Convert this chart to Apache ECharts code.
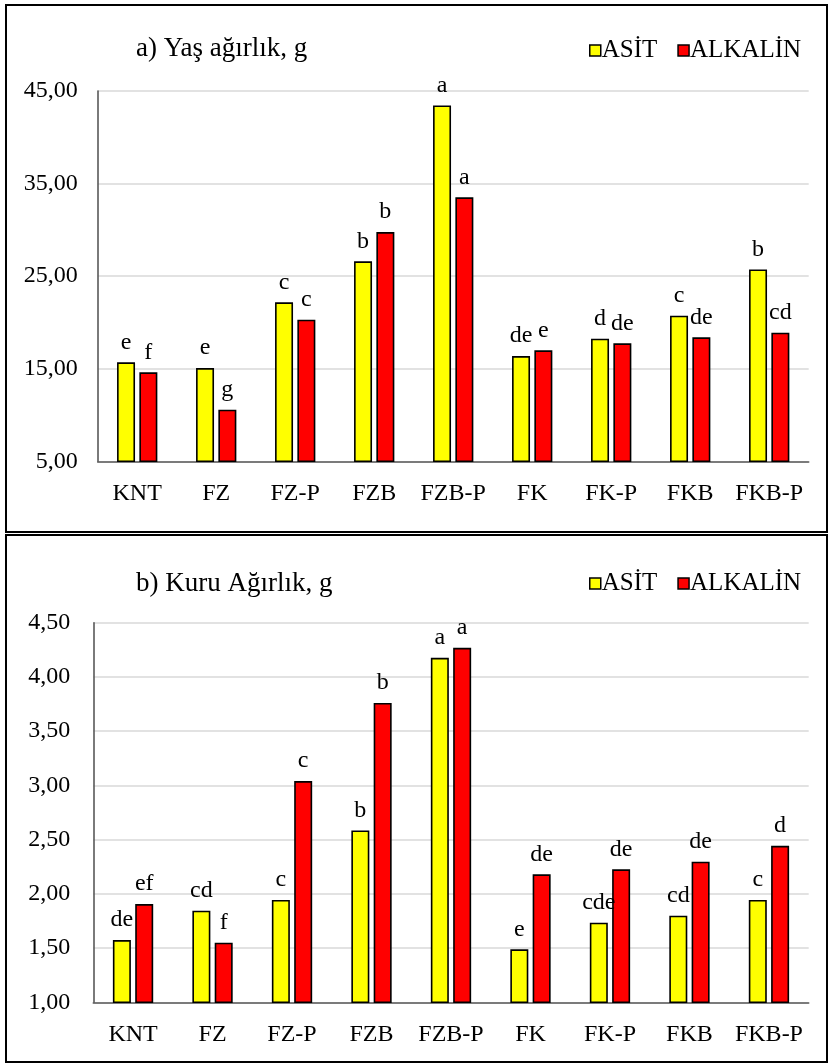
<!DOCTYPE html>
<html>
<head>
<meta charset="utf-8">
<script src="https://cdn.jsdelivr.net/npm/echarts@6/dist/echarts.min.js"></script>
<style>
html,body{margin:0;padding:0;background:#fff;}
#c{width:829px;height:1063px;}
</style>
</head>
<body>
<div id="c"></div>
<script>
// ---- data ----
const categories = ['KNT', 'FZ', 'FZ-P', 'FZB', 'FZB-P', 'FK', 'FK-P', 'FKB', 'FKB-P'];
const seriesNames = ['ASİT', 'ALKALİN'];

// a) Yaş ağırlık, g
const wetAsit    = [15.69, 15.07, 22.17, 26.60, 43.44, 16.37, 18.24, 20.72, 25.73];
const wetAlkalin = [14.61, 10.57, 20.29, 29.76, 33.51, 16.99, 17.74, 18.39, 18.89];
const wetAsitLetters    = ['e', 'e', 'c', 'b', 'a', 'de', 'd', 'c', 'b'];
const wetAlkalinLetters = ['f', 'g', 'c', 'b', 'a', 'e', 'de', 'de', 'cd'];
const wetTicks = [5, 15, 25, 35, 45];

// b) Kuru Ağırlık, g
const dryAsit    = [1.574, 1.844, 1.943, 2.585, 4.176, 1.488, 1.734, 1.798, 1.943];
const dryAlkalin = [1.906, 1.550, 3.040, 3.760, 4.268, 2.180, 2.226, 2.296, 2.443];
const dryAsitLetters    = ['de', 'cd', 'c', 'b', 'a', 'e', 'cde', 'cd', 'c'];
const dryAlkalinLetters = ['ef', 'f', 'c', 'b', 'a', 'de', 'de', 'de', 'd'];
const dryTicks = [1.0, 1.5, 2.0, 2.5, 3.0, 3.5, 4.0, 4.5];

const titles = ['a) Yaş ağırlık, g', 'b) Kuru Ağırlık, g'];

// ---- chart ----
const FONT = '"Liberation Serif", "Times New Roman", serif';
const YELLOW = '#FFFF00', RED = '#FF0000';
const fmt = v => v.toFixed(2).replace('.', ',');

function barSeries(name, values, letters, idx, color) {
  return {
    name: name,
    type: 'bar',
    xAxisIndex: idx,
    yAxisIndex: idx,
    data: values,
    barWidth: 18,
    barGap: '24%',
    itemStyle: { color: color, borderColor: '#000', borderWidth: 1.6 },
    label: {
      show: true,
      position: 'top',
      distance: 8,
      formatter: p => letters[p.dataIndex],
      fontFamily: FONT,
      fontSize: 24,
      color: '#000'
    },
    emphasis: { disabled: true }
  };
}

function xAxis(idx) {
  return {
    type: 'category',
    gridIndex: idx,
    data: categories,
    axisLine: { lineStyle: { color: '#595959', width: 1.6 } },
    axisTick: { show: false },
    axisLabel: { fontFamily: FONT, fontSize: 24, color: '#000', margin: 20, interval: 0 }
  };
}

function yAxis(idx, ticks, margin) {
  return {
    type: 'value',
    gridIndex: idx,
    min: ticks[0],
    max: ticks[ticks.length - 1],
    interval: ticks[1] - ticks[0],
    axisLine: { show: true, lineStyle: { color: '#595959', width: 1.6 } },
    axisTick: { show: false },
    splitLine: { lineStyle: { color: '#d9d9d9', width: 1.6 } },
    axisLabel: { fontFamily: FONT, fontSize: 24, color: '#000', margin: margin, formatter: fmt }
  };
}

function legend(top) {
  return {
    data: seriesNames,
    left: 584,
    top: top,
    icon: 'rect',
    itemWidth: 11,
    itemHeight: 11,
    itemGap: 20,
    itemStyle: { borderColor: '#000', borderWidth: 1.5 },
    textStyle: { fontFamily: FONT, fontSize: 25, color: '#000', padding: [0, 0, 0, -4] },
    selectedMode: false
  };
}

const chart = echarts.init(document.getElementById('c'), null, { renderer: 'canvas' });
chart.setOption({
  animation: false,
  backgroundColor: '#fff',
  title: [
    { text: titles[0], left: 131, top: 30, textStyle: { fontFamily: FONT, fontSize: 27, fontWeight: 'normal', color: '#000' } },
    { text: titles[1], left: 131, top: 565, textStyle: { fontFamily: FONT, fontSize: 27, fontWeight: 'normal', color: '#000' } }
  ],
  legend: [legend(33), legend(566)],
  grid: [
    { left: 97.7, right: 20.3, top: 91, height: 370.3 },
    { left: 93.3, right: 20.3, top: 622.7, height: 379.6 }
  ],
  xAxis: [xAxis(0), xAxis(1)],
  yAxis: [yAxis(0, wetTicks, 20), yAxis(1, dryTicks, 23)],
  series: [
    barSeries(seriesNames[0], wetAsit, wetAsitLetters, 0, YELLOW),
    barSeries(seriesNames[1], wetAlkalin, wetAlkalinLetters, 0, RED),
    barSeries(seriesNames[0], dryAsit, dryAsitLetters, 1, YELLOW),
    barSeries(seriesNames[1], dryAlkalin, dryAlkalinLetters, 1, RED)
  ],
  graphic: [
    { type: 'rect', silent: true, z: 100, shape: { x: 6, y: 5, width: 821, height: 527 }, style: { fill: 'none', stroke: '#000', lineWidth: 2 } },
    { type: 'rect', silent: true, z: 100, shape: { x: 6, y: 535, width: 821, height: 527 }, style: { fill: 'none', stroke: '#000', lineWidth: 2 } }
  ]
});
</script>
</body>
</html>
